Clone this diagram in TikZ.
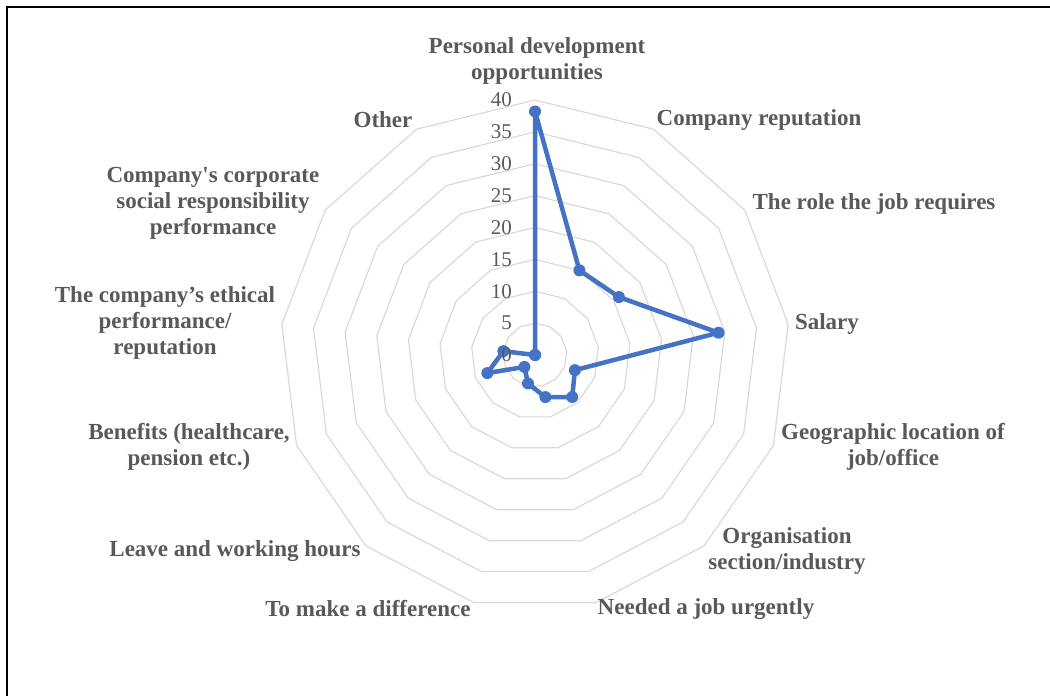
\documentclass[tikz,border=0pt]{standalone}
\usepackage{fontspec}
\setmainfont{Liberation Serif}[Ligatures=TeXOff]
\definecolor{txt}{HTML}{595959}
\definecolor{grd}{HTML}{D9D9D9}
\definecolor{ser}{HTML}{4472C4}
\tikzset{
 catlabel/.style={font=\bfseries\fontsize{23bp}{26bp}\selectfont, text=txt, align=center, inner sep=0pt},
 ticklabel/.style={font=\fontsize{21bp}{24bp}\selectfont, text=txt, anchor=east, inner sep=0pt},
 gridring/.style={draw=grd, line width=1.2bp},
 serline/.style={draw=ser, line width=4.5bp, line join=round},
 marker/.style={circle, fill=ser, inner sep=0pt, minimum size=12bp},
 frameline/.style={line width=2.5bp, black}
}
\begin{document}
\begin{tikzpicture}[x=1bp,y=-1bp]
\useasboundingbox (0,0) rectangle (1050,696);
\coordinate (fbl) at (7,696);
\coordinate (ftl) at (7,7);
\coordinate (ftr) at (1050,7);
\draw[frameline] (fbl) -- (ftl) -- (ftr);
\begin{scope}[shift={(535,355)}, x=6.375bp, y=6.375bp]
  \foreach \r in {5,10,...,40} {
    \draw[gridring] (90:\r) \foreach \k in {1,...,12} { -- ({90-\k*360/13}:\r) } -- cycle;
  }
  \foreach \v [count=\i from 0] in {38.2,15,16,29,6.7,8.8,6.8,4.6,2.5,8,5,0,0} {
    \coordinate (d\i) at ({90-\i*360/13}:\v);
  }
  \draw[serline] (d0) -- (d1) -- (d2) -- (d3) -- (d4) -- (d5) -- (d6) -- (d7) -- (d8) -- (d9) -- (d10) -- (d11) -- (d12) -- cycle;
  \foreach \i in {0,...,12} { \node[marker] (m\i) at (d\i) {}; }
\end{scope}
\foreach \t in {0,5,...,40} { \node[ticklabel] (t\t) at (512,{355-\t*6.375}) {\t}; }
\node[catlabel] (lab0) at (537,61) {Personal development\\opportunities};
\node[catlabel] (lab1) at (759,120) {Company reputation};
\node[catlabel] (lab2) at (874,204) {The role the job requires};
\node[catlabel] (lab3) at (827,324) {Salary};
\node[catlabel] (lab4) at (893,447) {Geographic location of\\job/office};
\node[catlabel] (lab5) at (787,551) {Organisation\\section/industry};
\node[catlabel] (lab6) at (706,609) {Needed a job urgently};
\node[catlabel] (lab7) at (368,609) {To make a difference};
\node[catlabel] (lab8) at (235,551) {Leave and working hours};
\node[catlabel] (lab9) at (189,447) {Benefits (healthcare,\\pension etc.)};
\node[catlabel] (lab10) at (165,323) {The company’s ethical\\performance/\\reputation};
\node[catlabel] (lab11) at (213,203) {Company's corporate\\social responsibility\\performance};
\node[catlabel] (lab12) at (383,120) {Other};
\end{tikzpicture}
\end{document}
